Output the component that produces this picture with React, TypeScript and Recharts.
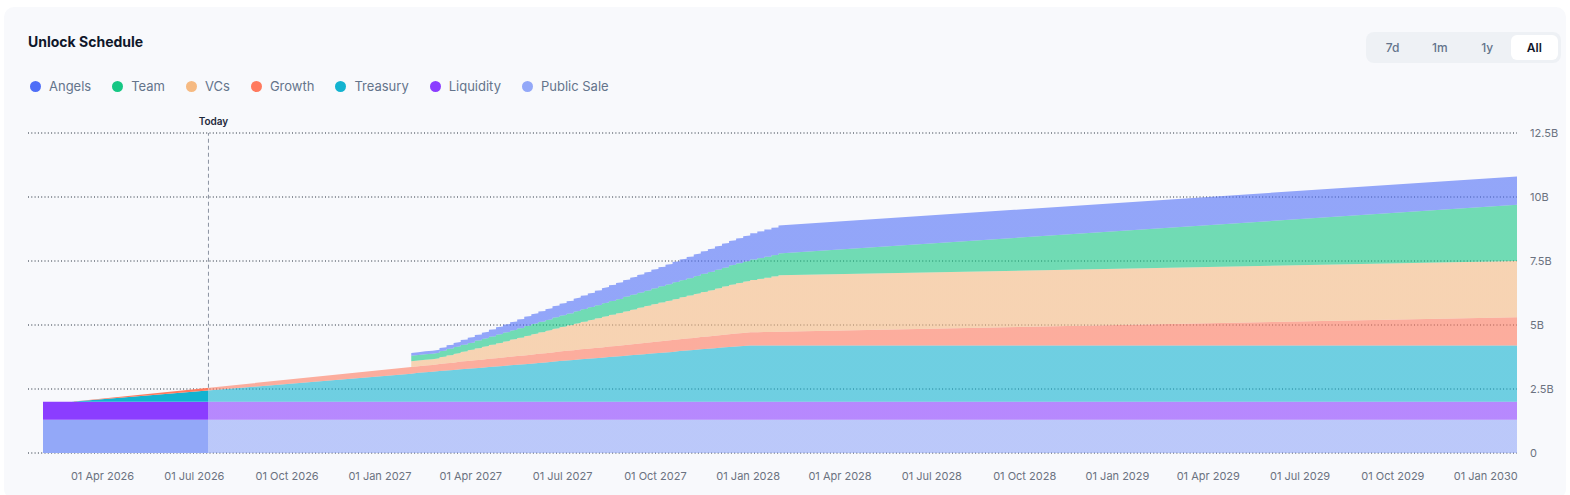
import { AreaChart, Area, XAxis, YAxis, CartesianGrid, ReferenceLine } from 'recharts';

const FONT = 'Inter, "Noto Sans", sans-serif';

// Schedule range and the current day marker
const START = '2026-02-01';
const VEST_START = '2026-03-01';
const WEEKLY_START = '2027-02-01';
const END = '2030-02-01';
const TODAY = '2026-07-15';

const X_TICKS = [
  '2026-04-01', '2026-07-01', '2026-10-01',
  '2027-01-01', '2027-04-01', '2027-07-01', '2027-10-01',
  '2028-01-01', '2028-04-01', '2028-07-01', '2028-10-01',
  '2029-01-01', '2029-04-01', '2029-07-01', '2029-10-01',
  '2030-01-01',
];
const Y_TICKS = [0, 2.5, 5, 7.5, 10, 12.5];
const Y_MAX = 12.5;

// Amounts are in billions of tokens.
// Fully unlocked from the start
const publicSale = 1.3;
const liquidity = 0.7;

// Cumulative unlocked per week, from WEEKLY_START (one entry per week)
const treasuryWeekly = [
  1.10, 1.13, 1.15, 1.17, 1.20, 1.22, 1.24, 1.27, 1.29, 1.31,
  1.33, 1.36, 1.38, 1.40, 1.43, 1.45, 1.47, 1.49, 1.52, 1.54,
  1.56, 1.59, 1.61, 1.63, 1.66, 1.68, 1.70, 1.72, 1.75, 1.77,
  1.79, 1.82, 1.84, 1.86, 1.89, 1.91, 1.93, 1.95, 1.98, 2.00,
  2.02, 2.05, 2.07, 2.09, 2.12, 2.14, 2.16, 2.18, 2.20, 2.20,
  2.20, 2.20, 2.20,
];
const growthWeekly = [
  0.26, 0.26, 0.27, 0.27, 0.28, 0.29, 0.29, 0.30, 0.30, 0.31,
  0.31, 0.32, 0.32, 0.33, 0.33, 0.34, 0.34, 0.35, 0.36, 0.36,
  0.37, 0.37, 0.38, 0.38, 0.39, 0.39, 0.40, 0.40, 0.41, 0.41,
  0.42, 0.42, 0.43, 0.44, 0.44, 0.45, 0.45, 0.46, 0.46, 0.47,
  0.47, 0.48, 0.48, 0.49, 0.49, 0.50, 0.51, 0.51, 0.52, 0.52,
  0.53, 0.53, 0.54,
];
const vcsWeekly = [
  0.22, 0.22, 0.22, 0.22, 0.26, 0.30, 0.34, 0.38, 0.42, 0.46,
  0.50, 0.54, 0.58, 0.62, 0.66, 0.70, 0.75, 0.79, 0.83, 0.87,
  0.91, 0.95, 0.99, 1.03, 1.07, 1.11, 1.15, 1.19, 1.23, 1.27,
  1.31, 1.35, 1.39, 1.43, 1.47, 1.51, 1.55, 1.59, 1.63, 1.67,
  1.71, 1.75, 1.79, 1.84, 1.88, 1.92, 1.96, 2.00, 2.04, 2.08,
  2.12, 2.16, 2.20,
];
const teamWeekly = [
  0.22, 0.22, 0.22, 0.22, 0.23, 0.25, 0.26, 0.27, 0.28, 0.30,
  0.31, 0.32, 0.34, 0.35, 0.36, 0.37, 0.39, 0.40, 0.41, 0.42,
  0.44, 0.45, 0.46, 0.48, 0.49, 0.50, 0.51, 0.53, 0.54, 0.55,
  0.57, 0.58, 0.59, 0.60, 0.62, 0.63, 0.64, 0.66, 0.67, 0.68,
  0.69, 0.71, 0.72, 0.73, 0.74, 0.76, 0.77, 0.78, 0.80, 0.81,
  0.82, 0.83, 0.85,
];
const angelsWeekly = [
  0.11, 0.11, 0.11, 0.11, 0.13, 0.15, 0.17, 0.19, 0.21, 0.23,
  0.25, 0.27, 0.29, 0.31, 0.33, 0.35, 0.37, 0.39, 0.41, 0.43,
  0.45, 0.47, 0.49, 0.51, 0.53, 0.55, 0.58, 0.60, 0.62, 0.64,
  0.66, 0.68, 0.70, 0.72, 0.74, 0.76, 0.78, 0.80, 0.82, 0.84,
  0.86, 0.88, 0.90, 0.92, 0.94, 0.96, 0.98, 1.00, 1.02, 1.04,
  1.06, 1.08, 1.10,
];

// Totals reached at END
const treasuryTotal = 2.2;
const growthTotal = 1.1;
const vcsTotal = 2.2;
const teamTotal = 2.2;
const angelsTotal = 1.1;

// bottom of the stack first
const SERIES = [
  { key: 'publicSale', name: 'Public Sale', color: '#93a8f8' },
  { key: 'liquidity', name: 'Liquidity', color: '#8b3dff' },
  { key: 'treasury', name: 'Treasury', color: '#13b3d0' },
  { key: 'growth', name: 'Growth', color: '#ff7a5e' },
  { key: 'vcs', name: 'VCs', color: '#f6ba82' },
  { key: 'team', name: 'Team', color: '#16c784' },
  { key: 'angels', name: 'Angels', color: '#4f6ef7' },
];

const MONTHS = ['Jan', 'Feb', 'Mar', 'Apr', 'May', 'Jun', 'Jul', 'Aug', 'Sep', 'Oct', 'Nov', 'Dec'];
const DAY = 86400000;
const ts = (d: string) => Date.parse(d + 'T00:00:00Z');

type Row = Record<string, number>;

function buildRows() {
  const base = { publicSale, liquidity };
  const rows: Row[] = [
    { t: ts(START), ...base, treasury: 0, growth: 0, vcs: 0, team: 0, angels: 0 },
    { t: ts(VEST_START), ...base, treasury: 0, growth: 0, vcs: 0, team: 0, angels: 0 },
  ];
  const first = ts(WEEKLY_START);
  treasuryWeekly.forEach((_, i) => {
    const t = first + i * 7 * DAY;
    const lower = { ...base, treasury: treasuryWeekly[i], growth: growthWeekly[i] };
    // two rows on the same day draw the vertical riser of each weekly unlock
    rows.push({
      t,
      ...lower,
      vcs: i ? vcsWeekly[i - 1] : 0,
      team: i ? teamWeekly[i - 1] : 0,
      angels: i ? angelsWeekly[i - 1] : 0,
    });
    rows.push({ t, ...lower, vcs: vcsWeekly[i], team: teamWeekly[i], angels: angelsWeekly[i] });
  });
  rows.push({
    t: ts(END),
    ...base,
    treasury: treasuryTotal,
    growth: growthTotal,
    vcs: vcsTotal,
    team: teamTotal,
    angels: angelsTotal,
  });
  return rows;
}

const data = buildRows();

// height of the whole stack at time t, following the drawn straight segments
function stackTopAt(t: number) {
  const total = (r: Row) => SERIES.reduce((sum, s) => sum + r[s.key], 0);
  for (let i = 0; i < data.length - 1; i++) {
    const a = data[i];
    const b = data[i + 1];
    if (t >= a.t && t <= b.t && b.t > a.t) {
      const k = (t - a.t) / (b.t - a.t);
      return total(a) + (total(b) - total(a)) * k;
    }
  }
  return 0;
}

const formatDate = (v: number) => {
  const d = new Date(v);
  return `${String(d.getUTCDate()).padStart(2, '0')} ${MONTHS[d.getUTCMonth()]} ${d.getUTCFullYear()}`;
};
const formatAmount = (v: number) => (v === 0 ? '0' : `${v}B`);

// share of the x range that is already unlocked (solid colours)
const pastShare = (ts(TODAY) - ts(START)) / (ts(END) - ts(START));
const todayTop = stackTopAt(ts(TODAY));

function TodayLabel({ viewBox }: any) {
  if (!viewBox) return null;
  return (
    <text x={viewBox.x + 5} y={viewBox.y - 8} textAnchor="middle" fontSize={10} fontWeight={600} fill="#1e293b">
      Today
    </text>
  );
}

const RANGES = ['7d', '1m', '1y', 'All'];

export default function App() {
  return (
    <div style={{ position: 'absolute', left: 0, top: 0, width: 1570, height: 495, background: '#fff', fontFamily: FONT, overflow: 'hidden' }}>
      <div style={{ position: 'absolute', left: 4, top: 7, width: 1562, height: 492, background: '#f8f9fc', borderRadius: 10 }} />

      <div style={{ position: 'absolute', left: 28, top: 32, fontSize: 14, fontWeight: 700, color: '#0f172a', lineHeight: '20px' }}>
        Unlock Schedule
      </div>

      <div style={{ position: 'absolute', left: 30, top: 77, display: 'flex', gap: 21, fontSize: 13, color: '#64748b', lineHeight: '18px' }}>
        {[...SERIES].reverse().map((s) => (
          <div key={s.key} style={{ display: 'flex', alignItems: 'center', gap: 8 }}>
            <span style={{ width: 11, height: 11, borderRadius: '50%', background: s.color, display: 'inline-block' }} />
            <span>{s.name}</span>
          </div>
        ))}
      </div>

      <div style={{ position: 'absolute', left: 1366, top: 32, width: 195, height: 31, boxSizing: 'border-box', padding: 3, background: '#eef1f5', borderRadius: 8, display: 'flex' }}>
        {RANGES.map((r) => (
          <div
            key={r}
            style={{
              flex: 1,
              display: 'flex',
              alignItems: 'center',
              justifyContent: 'center',
              fontSize: 12,
              fontWeight: r === 'All' ? 600 : 500,
              color: r === 'All' ? '#0f172a' : '#64748b',
              background: r === 'All' ? '#fff' : 'transparent',
              borderRadius: 6,
            }}
          >
            {r}
          </div>
        ))}
      </div>

      <div style={{ position: 'absolute', left: 0, top: 0 }}>
        <AreaChart width={1570} height={495} data={data} margin={{ top: 133, right: 3, bottom: 12, left: 28 }}>
          <defs>
            {SERIES.map((s) => (
              <linearGradient key={s.key} id={`fill-${s.key}`} x1="0" y1="0" x2="1" y2="0">
                <stop offset={pastShare} stopColor={s.color} stopOpacity={1} />
                <stop offset={pastShare} stopColor={s.color} stopOpacity={0.6} />
              </linearGradient>
            ))}
          </defs>
          <CartesianGrid vertical={false} stroke="#1f2937" strokeDasharray="1 2.3" />
          <XAxis
            dataKey="t"
            type="number"
            domain={[ts(START), ts(END)]}
            ticks={X_TICKS.map(ts)}
            interval={0}
            tickFormatter={formatDate}
            padding={{ left: 15, right: 0 }}
            axisLine={false}
            tickLine={false}
            tickMargin={13}
            height={30}
            tick={{ fontSize: 11, fill: '#6b7280' }}
          />
          <YAxis
            orientation="right"
            domain={[0, Y_MAX]}
            ticks={Y_TICKS}
            tickFormatter={formatAmount}
            axisLine={false}
            tickLine={false}
            tickMargin={7}
            width={50}
            tick={{ fontSize: 11, fill: '#6b7280', textAnchor: 'start' }}
          />
          {SERIES.map((s) => (
            <Area
              key={s.key}
              dataKey={s.key}
              name={s.name}
              stackId="supply"
              type="linear"
              stroke="none"
              fill={`url(#fill-${s.key})`}
              fillOpacity={1}
              isAnimationActive={false}
              activeDot={false}
            />
          ))}
          {/* dashed marker runs from the top of the stack up to the top gridline */}
          <ReferenceLine
            segment={[
              { x: ts(TODAY), y: todayTop },
              { x: ts(TODAY), y: Y_MAX },
            ]}
            stroke="#8b93a1"
            strokeDasharray="4 3"
            label={<TodayLabel />}
          />
        </AreaChart>
      </div>
    </div>
  );
}
